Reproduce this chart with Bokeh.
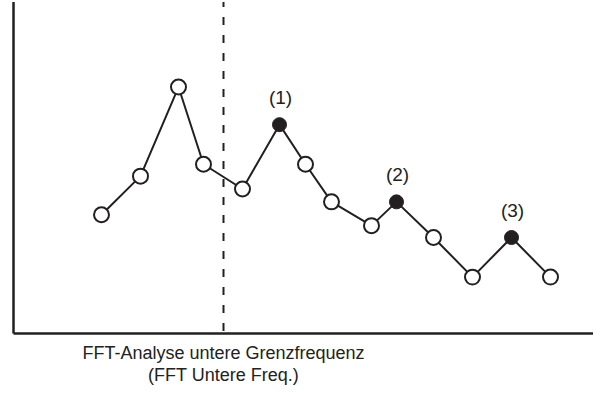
from bokeh.plotting import figure
from bokeh.models import Range1d, ColumnDataSource
from bokeh.core.properties import value
from bokeh.embed import file_html
from bokeh.resources import INLINE

# Data (arbitrary frequency / amplitude units)
freq = [8.8, 12.7, 16.5, 19.0, 22.9, 26.6, 29.2, 31.8, 35.8, 38.3, 42.0, 45.9, 49.8, 53.7]
amp = [12.0, 15.9, 24.9, 17.1, 14.6, 21.1, 17.1, 13.3, 10.9, 13.3, 9.7, 5.7, 9.7, 5.7]
peak_idx = [5, 9, 12]
peak_labels = ["(1)", "(2)", "(3)"]
cutoff = 21.0
axis_top = 33.5
caption = ["FFT-Analyse untere Grenzfrequenz", "(FFT Untere Freq.)"]

FONT = "Liberation Sans"
INK = "#231f20"
TEXT = "#222222"

x_range = Range1d(-1.3, 58.0)
y_range = Range1d(-5.45, 33.64)

p = figure(width=593, height=387, x_range=x_range, y_range=y_range,
           x_axis_type=None, y_axis_type=None,
           output_backend="svg", toolbar_location=None, min_border=0)
p.grid.visible = False
p.outline_line_color = None
p.background_fill_color = "white"
p.border_fill_color = "white"

# axis lines (left axis and baseline)
p.segment(x0=[0, 0], y0=[0, 0], x1=[0, x_range.end], y1=[axis_top, 0],
          line_color=INK, line_width=2.5)

# cutoff dashed line
p.segment(x0=[cutoff], y0=[axis_top], x1=[cutoff], y1=[0],
          line_color=INK, line_width=2, line_dash="8 10", line_dash_offset=3)

# spectrum
p.line(freq, amp, line_color=INK, line_width=2)
open_src = ColumnDataSource(dict(x=[f for i, f in enumerate(freq) if i not in peak_idx],
                                 y=[a for i, a in enumerate(amp) if i not in peak_idx]))
peak_src = ColumnDataSource(dict(x=[freq[i] for i in peak_idx],
                                 y=[amp[i] for i in peak_idx],
                                 t=peak_labels))
p.scatter("x", "y", source=open_src, size=15, fill_color="white",
          line_color=INK, line_width=2)
p.scatter("x", "y", source=peak_src, size=14, fill_color=INK,
          line_color=INK, line_width=1)
p.text("x", "y", text="t", source=peak_src, y_offset=-27, x_offset=1,
       text_align="center", text_baseline="middle",
       text_font=value(FONT), text_font_size="19px", text_color=TEXT)

# caption under the cutoff line
cap_src = ColumnDataSource(dict(x=[cutoff, cutoff], y=[0, 0], t=caption,
                                dy=[19, 41]))
p.text("x", "y", text="t", source=cap_src, y_offset="dy",
       text_align="center", text_baseline="middle",
       text_font=value(FONT), text_font_size="18px", text_color=TEXT)

open("out.html", "w").write(file_html(p, INLINE))
